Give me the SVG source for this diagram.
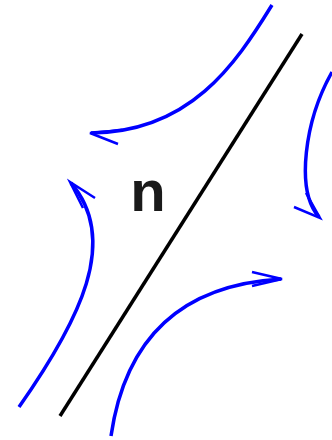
<svg xmlns="http://www.w3.org/2000/svg" width="332" height="440" viewBox="0 0 332 440">
<style>
.flow{fill:none;stroke:#0000ff;stroke-width:3.5;stroke-linecap:butt}
.head{fill:none;stroke:#0000ff;stroke-width:2.5;stroke-linejoin:miter}
.wall{stroke:#000;stroke-width:3.5}
.lbl{font-family:"Liberation Sans",Arial,sans-serif;font-weight:bold;font-size:58px;fill:#1a1a1a}
</style>
<rect width="332" height="440" fill="#fff"/>
<g id="surface"><line class="wall" x1="60" y1="416" x2="302" y2="34"/></g>
<g id="label"><text class="lbl" x="148" y="211" text-anchor="middle">n</text></g>
<g id="connectors">
<path class="flow" d="M272,5 C235,65 190,132 91,133"/>
<path class="head" d="M122,130 L90,133 L118,144"/>
<path class="flow" d="M332,72 C305,120 295,190 319,217"/>
<path class="head" d="M294,207 L320,218 L306,193"/>
<path class="flow" d="M19,407 C80,320 120,240 71,183"/>
<path class="head" d="M95,198 L70,182 L83,208"/>
<path class="flow" d="M111,436 C125,340 180,285 281,279"/>
<path class="head" d="M252,272 L282,279 L252,286"/>
</g>
</svg>
